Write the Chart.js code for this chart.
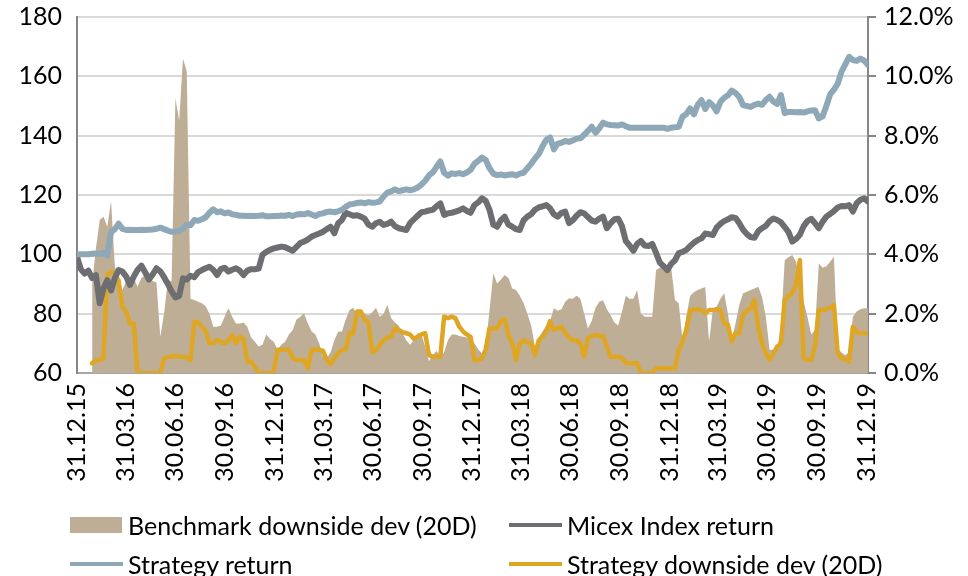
<!DOCTYPE html>
<html>
<head>
<meta charset="utf-8">
<script src="https://cdn.jsdelivr.net/npm/chart.js@4/dist/chart.umd.min.js"></script>
<style>
  html, body { margin: 0; padding: 0; background: #fff; overflow: hidden; }
  #wrap { position: relative; width: 968px; height: 576px; overflow: hidden; }
  #chart { position: absolute; left: 0; top: -13px; }
  .legend-item { position: absolute; font-family: Lato, 'Liberation Sans', sans-serif; font-size: 25px; color: #000; white-space: nowrap; line-height: 30px; }
  .legend-item .sw { position: absolute; left: 0; }
  .legend-item span.txt { position: absolute; white-space: nowrap; }
</style>
</head>
<body>
<div id="wrap">
  <canvas id="chart" width="968" height="589"></canvas>
  <div id="legend"></div>
</div>
<script>
// Weekly observations starting 31.12.15 (week 0)
const startDate = '31.12.15';

// Quarter-end tick labels
const tickLabels = ['31.12.15', '31.03.16', '30.06.16', '30.09.16', '31.12.16', '31.03.17', '30.06.17',
    '30.09.17', '31.12.17', '31.03.18', '30.06.18', '30.09.18', '31.12.18', '31.03.19', '30.06.19',
    '30.09.19', '31.12.19'];

// Strategy return (index, left axis)
const strategyReturn = [
    100, 100, 100, 100, 100.2, 100.3, 100.2, 100.5, 99.6, 107.5,
    108.5, 110.3, 108.6, 108.2, 108.3, 108.2, 108.2, 108.3, 108.2, 108.3,
    108.4, 108.6, 109, 108.5, 108, 107.6, 107.7, 107.9, 108.6, 110,
    109.8, 111.6, 111.3, 111.8, 112.5, 114, 115.2, 114.2, 114.5, 113.8,
    114.1, 113.5, 113.3, 113, 113, 112.9, 113, 112.9, 113, 113.2,
    112.8, 112.8, 112.9, 112.9, 113.1, 113, 113.3, 112.9, 113.4, 113.6,
    113.5, 113.9, 113.4, 112.9, 113.6, 113.8, 114.3, 114.4, 114.2, 114.5,
    115, 116, 116.8, 117, 117.3, 117.5, 117.2, 117.6, 117.4, 117.5,
    117.8, 119.5, 120.8, 121.2, 121.9, 121.3, 121.6, 121.9, 121.6, 121.9,
    122.5, 123.5, 124.8, 126.6, 127.6, 129.5, 131.3, 127.5, 126.5, 127.3,
    127.1, 127.4, 127, 127.6, 128.5, 130.5, 131.5, 132.6, 131.8, 129,
    127.2, 126.7, 126.9, 126.6, 126.8, 127, 126.6, 127.2, 127.5, 129,
    130.5, 132.3, 133.8, 136.4, 138.6, 139.4, 135.4, 137.3, 137.6, 138.2,
    137.9, 138.4, 139, 139.1, 140.3, 141.6, 143, 141, 142.5, 144.4,
    143.8, 143.6, 143.5, 143.4, 143.8, 143.2, 142.7, 142.7, 142.7, 142.7,
    142.7, 142.7, 142.7, 142.7, 142.7, 142.7, 142.3, 142.7, 142.8, 143,
    146.4, 147.3, 149.2, 147.2, 150.4, 152, 149, 151.3, 150.2, 148.2,
    151.4, 152.8, 153.6, 155.2, 154.4, 153, 150.3, 150, 149.7, 150.4,
    150.8, 150.4, 152, 153.1, 151.5, 150.7, 153.7, 147.6, 148, 148,
    147.9, 148, 147.8, 148.2, 148.5, 148.6, 145.8, 146.5, 150, 153.9,
    155.5, 157.5, 161.6, 164, 166.6, 165.5, 165.2, 166, 165.3, 163.8
];

// Micex Index return (index, left axis)
const micexReturn = [
    99.2, 95, 93.5, 94.5, 92, 93, 83.5, 88.5, 91.3, 87.8,
    92, 94.7, 94.2, 92.5, 89.7, 92.5, 94.7, 96.2, 94, 91.5,
    93.2, 95.3, 94.3, 92.3, 90, 87.5, 85.5, 86, 91.9, 91.5,
    92.8, 92.3, 94, 94.7, 95.3, 95.8, 94.8, 93, 95, 95.5,
    94.2, 94.8, 95.3, 94.5, 93, 94.5, 95, 95, 95.2, 99.8,
    100.8, 101.5, 102, 102.3, 102.6, 102.4, 101.8, 101.2, 102.5, 103.8,
    104.3, 105, 106, 106.5, 107, 107.6, 108.5, 109.3, 107.1, 110.5,
    111.6, 114, 113.5, 113, 113.2, 112.7, 112, 110, 109.3, 110.5,
    111, 109.9, 110.3, 111, 109.5, 108.8, 108.5, 108.2, 110.5, 111.8,
    113, 114.2, 114.4, 114.8, 115, 116.2, 117.2, 113.3, 113.8, 114,
    114.4, 114.8, 115.5, 114.6, 114, 116.6, 117.5, 118.9, 118, 115,
    110, 109.3, 111.5, 112.7, 110, 109.3, 108.5, 108.2, 111.5, 112.7,
    113.5, 115, 115.8, 116.2, 116.6, 115.5, 113.5, 112.7, 114, 114.4,
    110.5, 111.5, 113, 114.2, 113.8, 112.6, 111.4, 111, 112, 112.7,
    108.8, 110.5, 111.8, 112, 109.5, 104.5, 103, 101.2, 103.5, 104.5,
    103, 102.8, 103.5, 100.5, 97.2, 96, 94.7, 96.8, 98, 100.4,
    100.8, 101.5, 102.8, 103.9, 104.8, 105.4, 107, 106.8, 106.5, 109,
    110.3, 111.2, 111.8, 112.5, 112.3, 110.5, 108.3, 106.8, 105.8, 105.6,
    107.8, 108.8, 109.6, 111.2, 112.1, 111.6, 110.8, 109.2, 107.5, 104.3,
    105.2, 106.6, 109.5, 111.2, 112, 110.5, 108.8, 111, 112.7, 113.6,
    114.6, 115.8, 116.3, 116.2, 116.6, 114.4, 117.2, 118.4, 118.9, 117.8
];

// Benchmark downside deviation, 20 days (%, right axis)
const benchmarkDownside = [
    null, null, null, null, 3.0, 4.2, 5.16, 5.27, 4.93, 5.8,
    3.6, 3.2, 2.8, 3.1, 3.13, 3.2, 2.91, 3.2, 3.3, 3.25,
    3.1, 3.05, 1.22, 2.0, 3.13, 3.1, 9.26, 8.5, 10.6, 10.16,
    2.5, 2.46, 2.4, 2.35, 2.25, 2.0, 1.56, 1.56, 1.6, 1.9,
    2.18, 1.9, 1.67, 1.67, 1.7, 1.56, 1.2, 1.05, 0.89, 0.95,
    1.3, 1.15, 1.05, 0.78, 0.95, 1.05, 1.3, 1.45, 1.8, 1.9,
    2.01, 1.67, 1.4, 1.3, 1.0, 0.55, 0.5, 0.7, 1.1, 1.39,
    1.4, 1.8, 2.12, 2.2, 1.95, 2.05, 2.0, 1.95, 2.05, 2.2,
    1.9, 2.0, 2.3, 1.85, 1.7, 1.6, 1.34, 1.1, 0.95, 1.1,
    1.35, 1.3, 0.89, 0.4, 0.6, 0.75, 0.55, 0.7, 1.1, 1.3,
    1.3, 1.25, 1.22, 1.2, 1.2, 1.0, 0.8, 0.66, 0.9, 2.12,
    3.36, 3.02, 3.15, 3.3, 3.2, 2.85, 2.8, 2.6, 2.35, 2.0,
    1.6, 0.9, 1.2, 1.4, 1.6, 1.75, 2.18, 2.1, 2.15, 2.4,
    2.52, 2.5, 2.6, 2.5, 2.0, 1.5, 1.75, 2.2, 2.4, 2.45,
    2.15, 1.95, 1.7, 1.6, 2.07, 2.6, 2.5, 2.5, 2.8, 2.0,
    1.9, 1.9, 1.9, 3.47, 3.55, 3.58, 3.6, 3.55, 2.46, 2.35,
    1.11, 1.9, 2.6, 2.72, 2.8, 2.85, 2.9, 1.06, 2.12, 2.23,
    2.5, 2.69, 2.0, 1.11, 1.67, 2.3, 2.69, 2.74, 2.8, 2.85,
    2.91, 2.57, 1.9, 0.78, 0.78, 0.8, 1.6, 3.81, 3.9, 3.98,
    3.75, 3.0, 2.4, 1.9, 1.3, 1.45, 3.7, 3.55, 3.6, 3.75,
    3.92, 0.8, 0.7, 0.6, 0.7, 1.9, 2.07, 2.15, 2.18, 2.18
];

// Strategy downside deviation, 20 days (%, right axis)
const strategyDownside = [
    null, null, null, null, 0.33, 0.44, 0.44, 0.5, 3.3, 3.41,
    3.35, 3.1, 2.23, 2.07, 1.67, 1.67, 0, 0, 0, 0,
    0, 0, 0, 0.49, 0.55, 0.55, 0.58, 0.55, 0.55, 0.5,
    0.44, 1.73, 1.7, 1.56, 1.4, 1.0, 1.0, 1.11, 1.05, 1.0,
    1.1, 1.28, 1.0, 1.22, 1.15, 0.38, 0.38, 0.2, 0, 0,
    0, 0, 0.05, 0.78, 0.78, 0.78, 0.78, 0.5, 0.44, 0.44,
    0.44, 0.16, 0.78, 0.78, 0.78, 0.75, 0.44, 0.3, 0.5, 0.66,
    0.78, 0.8, 1.34, 1.34, 2.07, 2.07, 1.8, 1.7, 0.7, 0.78,
    0.94, 1.1, 1.2, 1.22, 1.51, 1.45, 1.38, 1.34, 1.3, 1.15,
    1.22, 1.3, 1.34, 0.6, 0.55, 0.55, 0.55, 1.9, 1.85, 1.9,
    1.85, 1.56, 1.4, 1.3, 1.22, 0.44, 0.44, 0.49, 0.8, 1.51,
    1.5, 1.5, 1.75, 1.82, 1.28, 1.0, 0.44, 1.0, 1.1, 1.05,
    1.0, 0.6, 1.1, 1.22, 1.39, 1.75, 1.45, 1.5, 1.56, 1.35,
    1.2, 1.11, 1.1, 1.0, 0.55, 1.17, 1.25, 1.28, 1.25, 1.25,
    0.89, 0.55, 0.55, 0.55, 0.5, 0.33, 0.33, 0.33, 0.33, 0,
    0, 0, 0, 0.16, 0.16, 0.16, 0.16, 0.16, 0.16, 0.78,
    1.06, 1.45, 2.12, 2.12, 2.15, 2.12, 2.01, 2.12, 2.12, 2.15,
    2.12, 1.67, 1.62, 1.06, 1.34, 1.34, 1.96, 2.1, 2.18, 2.46,
    1.56, 1.0, 0.66, 0.44, 0.66, 0.89, 1.0, 2.46, 2.6, 2.69,
    3.0, 3.81, 0.5, 0.44, 0.44, 0.9, 2.12, 2.12, 2.15, 2.2,
    2.29, 0.66, 0.5, 0.45, 0.38, 1.56, 1.39, 1.34, 1.34, 1.34
];

const seriesNames = ['Benchmark downside dev (20D)', 'Micex Index return', 'Strategy return', 'Strategy downside dev (20D)'];
const seriesColors = ['#bfae96', '#6d6e71', '#8ea8b8', '#dea623'];

function parseDate(s) {
    const p = s.split('.');
    return new Date(2000 + Number(p[2]), Number(p[1]) - 1, Number(p[0]));
}
const t0 = parseDate(startDate);
function weekOf(s) {
    return Math.round((parseDate(s) - t0) / 86400000) / 7;
}
const tickWeeks = tickLabels.map(weekOf);

function toPoints(arr) {
    return arr.map((v, i) => ({ x: i, y: v }));
}

const fontFamily = "Lato, 'Liberation Sans', sans-serif";

const ctx = document.getElementById('chart').getContext('2d');
const chart = new Chart(ctx, {
    type: 'line',
    data: {
        datasets: [
            {
                label: seriesNames[0],
                data: toPoints(benchmarkDownside),
                yAxisID: 'y2',
                borderWidth: 0,
                borderColor: seriesColors[0],
                backgroundColor: seriesColors[0],
                fill: 'origin',
                pointRadius: 0,
                tension: 0,
                order: 4
            },
            {
                label: seriesNames[1],
                data: toPoints(micexReturn),
                yAxisID: 'y',
                borderColor: seriesColors[1],
                borderWidth: 6,
                pointRadius: 0,
                tension: 0,
                borderJoinStyle: 'round',
                borderCapStyle: 'round',
                order: 2
            },
            {
                label: seriesNames[2],
                data: toPoints(strategyReturn),
                yAxisID: 'y',
                borderColor: seriesColors[2],
                borderWidth: 6,
                pointRadius: 0,
                tension: 0,
                borderJoinStyle: 'round',
                borderCapStyle: 'round',
                order: 1
            },
            {
                label: seriesNames[3],
                data: toPoints(strategyDownside),
                yAxisID: 'y2',
                borderColor: seriesColors[3],
                borderWidth: 4.5,
                pointRadius: 0,
                tension: 0,
                borderJoinStyle: 'round',
                borderCapStyle: 'round',
                order: 3
            }
        ]
    },
    options: {
        responsive: false,
        animation: false,
        devicePixelRatio: 1,
        layout: { padding: { top: 4, bottom: 0, left: 0, right: 0 } },
        plugins: {
            legend: { display: false },
            tooltip: { enabled: false }
        },
        scales: {
            x: {
                type: 'linear',
                min: 0,
                max: strategyReturn.length - 1,
                afterBuildTicks: (scale) => {
                    scale.ticks = tickWeeks.map(v => ({ value: v }));
                },
                afterFit: (scale) => { scale.height = 203; },
                ticks: {
                    autoSkip: false,
                    maxRotation: 90,
                    minRotation: 90,
                    padding: 10,
                    color: '#000',
                    font: { family: fontFamily, size: 25 },
                    callback: (value) => {
                        const k = tickWeeks.indexOf(value);
                        return k >= 0 ? tickLabels[k] : '';
                    }
                },
                grid: { display: false, drawTicks: false },
                border: { display: true, color: '#a6a6a6', width: 2 }
            },
            y: {
                position: 'left',
                min: 60,
                max: 180,
                afterFit: (scale) => { scale.width = 77; },
                ticks: {
                    stepSize: 20,
                    padding: 15,
                    color: '#000',
                    font: { family: fontFamily, size: 25 }
                },
                grid: { color: '#d9d9d9', lineWidth: 2, drawTicks: false },
                border: { color: '#868686', width: 2 }
            },
            y2: {
                position: 'right',
                min: 0,
                max: 12,
                afterFit: (scale) => { scale.width = 100; },
                ticks: {
                    stepSize: 2,
                    padding: 8,
                    color: '#000',
                    font: { family: fontFamily, size: 25 },
                    callback: (v) => v.toFixed(1) + '%'
                },
                grid: { drawOnChartArea: false, drawTicks: true, tickLength: 8, color: '#868686', lineWidth: 2 },
                border: { color: '#868686', width: 2 }
            }
        }
    }
});

// HTML legend, two columns
const legendPos = [
    { left: 70, top: 525, box: true },
    { left: 509, top: 525, box: false },
    { left: 70, top: 564, box: false },
    { left: 509, top: 564, box: false }
];
const legendDiv = document.getElementById('legend');
seriesNames.forEach((name, k) => {
    const pos = legendPos[k];
    const item = document.createElement('div');
    item.className = 'legend-item';
    item.style.left = pos.left + 'px';
    item.style.top = (pos.top - 15) + 'px';
    const sw = document.createElement('div');
    sw.className = 'sw';
    sw.style.background = seriesColors[k];
    if (pos.box) {
        sw.style.width = '52px';
        sw.style.height = '16px';
        sw.style.top = '7px';
    } else {
        sw.style.width = '53px';
        sw.style.height = '4px';
        sw.style.top = '13px';
    }
    const txt = document.createElement('span');
    txt.className = 'txt';
    txt.style.left = '58px';
    txt.style.top = '0px';
    txt.textContent = name;
    item.appendChild(sw);
    item.appendChild(txt);
    legendDiv.appendChild(item);
});
</script>
</body>
</html>
